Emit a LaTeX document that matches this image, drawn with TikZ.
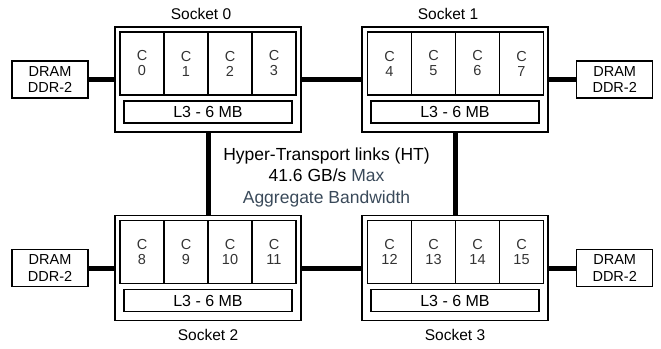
\documentclass[tikz,border=0pt]{standalone}
\usepackage{fontspec}
\setmainfont{Liberation Sans}
\definecolor{slate}{HTML}{3A4A5A}
\definecolor{ctext}{HTML}{333333}
\begin{document}
\begin{tikzpicture}[x=1pt,y=-1pt,
  sock/.style={draw, line width=1.3pt, minimum width=186pt, minimum height=105pt, inner sep=0pt},
  core/.style={draw, line width=1.2pt, minimum width=44pt, minimum height=63pt, inner sep=0pt, align=center, font=\fontsize{14.5}{15}\selectfont, text=ctext},
  cache/.style={draw, line width=1.2pt, minimum width=168pt, minimum height=22pt, inner sep=0pt, font=\fontsize{16}{18}\selectfont},
  dram/.style={draw, line width=1.2pt, minimum width=76pt, minimum height=37pt, inner sep=0pt, align=center, font=\fontsize{14.5}{16.5}\selectfont},
  link/.style={line width=5pt},
  lbl/.style={font=\fontsize{15.5}{17}\selectfont}]
\useasboundingbox (0,0) rectangle (661,348);
% sockets
\node[sock] (s0) at (208,79.5) {};
\node[sock] (s1) at (455,79.5) {};
\node[sock] (s2) at (208,268) {};
\node[sock] (s3) at (455,268) {};
% labels
\node[lbl] (l0) at (201,14) {Socket 0};
\node[lbl] (l1) at (448,14) {Socket 1};
\node[lbl] (l2) at (208,335) {Socket 2};
\node[lbl] (l3) at (455,335) {Socket 3};
% cores
\foreach \s/\x/\y/\n in {0/142/63.5/0,1/389.5/63.5/4,2/142/252/8,3/389.5/252/12}{
  \foreach \i in {0,1,2,3}{
    \pgfmathtruncatemacro{\k}{\n+\i}
    \node[core] (c\s-\i) at (\x+\i*44,\y) {C\\\k};
  }
}
% caches
\node[cache] (m0) at (208,112) {L3 - 6 MB};
\node[cache] (m1) at (455,112) {L3 - 6 MB};
\node[cache] (m2) at (208,300.8) {L3 - 6 MB};
\node[cache] (m3) at (455,300.8) {L3 - 6 MB};
% DRAM
\node[dram] (d0) at (50,79.5) {DRAM\\DDR-2};
\node[dram] (d1) at (614.7,79.5) {DRAM\\DDR-2};
\node[dram] (d2) at (50,268) {DRAM\\DDR-2};
\node[dram] (d3) at (614.7,268) {DRAM\\DDR-2};
% links
\draw[link] (d0.east) -- (s0.west);
\draw[link] (d1.west) -- (s1.east);
\draw[link] (d2.east) -- (s2.west);
\draw[link] (d3.west) -- (s3.east);
\draw[link] (s0.east) -- (s1.west);
\draw[link] (s2.east) -- (s3.west);
\draw[link] (s0.south) -- (s2.north);
\draw[link] (s1.south) -- (s3.north);
% center text
\node[align=center, font=\fontsize{17.5}{21.5}\selectfont] (ht) at (326.5,177) {Hyper-Transport links (HT)\\41.6 GB/s \textcolor{slate}{Max}\\\textcolor{slate}{Aggregate Bandwidth}};
\end{tikzpicture}
\end{document}
